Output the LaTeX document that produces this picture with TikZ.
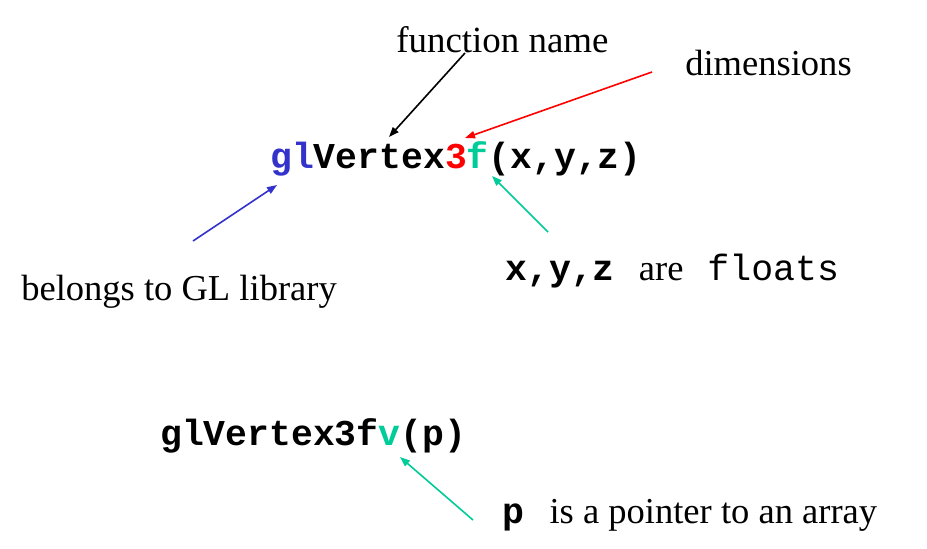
\documentclass[tikz,border=0pt]{standalone}
\usepackage{fontspec}
\setmainfont{Liberation Serif}
\setmonofont{Liberation Mono}
\usetikzlibrary{arrows.meta}
\definecolor{glblue}{RGB}{51,51,204}
\definecolor{glred}{RGB}{255,0,0}
\definecolor{glteal}{RGB}{0,204,153}

\begin{document}
\begin{tikzpicture}[x=0.75pt, y=-0.75pt, >={Triangle[length=7.5pt,width=5.5pt]},
  lbl/.style={anchor=base west, inner sep=0pt, font=\fontsize{27.4}{30}\selectfont},
  code/.style={anchor=base west, inner sep=0pt, font=\fontsize{27.3}{30}\selectfont\ttfamily\bfseries},
  arr/.style={->, line width=1.2pt}]
  \useasboundingbox (0,0) rectangle (927,549);

  % labels
  \node[lbl, font=\fontsize{27.7}{30}\selectfont] (fname) at (396,53) {function name};
  \node[lbl] (dims) at (685,76) {dimensions};
  \node[lbl] (glib) at (21,300) {belongs to GL library};
  \node[lbl] (floats) at (505,280) {{\ttfamily\bfseries x,y,z}\hspace{18pt}are\hspace{18pt}{\ttfamily floats}};
  \node[lbl] (ptr) at (502,523) {{\ttfamily\bfseries p}\hspace{19pt}is a pointer to an array};

  % function calls
  \node[code] (call) at (270,168) {{\color{glblue}gl}Vertex{\color{glred}3}{\color{glteal}f}(x,y,z)};
  \node[code] (callv) at (160,445) {glVertex3f{\color{glteal}v}(p)};

  % arrow ends
  \coordinate (fname-from) at (465,53);
  \coordinate (fname-to) at (389,137);
  \coordinate (dims-from) at (652,72);
  \coordinate (dims-to) at (465,138);
  \coordinate (glib-from) at (193,241);
  \coordinate (glib-to) at (277,185);
  \coordinate (floats-from) at (548,232);
  \coordinate (floats-to) at (492,176);
  \coordinate (ptr-from) at (473,520);
  \coordinate (ptr-to) at (400,457);

  \draw[arr] (fname-from) -- (fname-to);
  \draw[arr, glred] (dims-from) -- (dims-to);
  \draw[arr, glblue] (glib-from) -- (glib-to);
  \draw[arr, glteal] (floats-from) -- (floats-to);
  \draw[arr, glteal] (ptr-from) -- (ptr-to);
\end{tikzpicture}
\end{document}
